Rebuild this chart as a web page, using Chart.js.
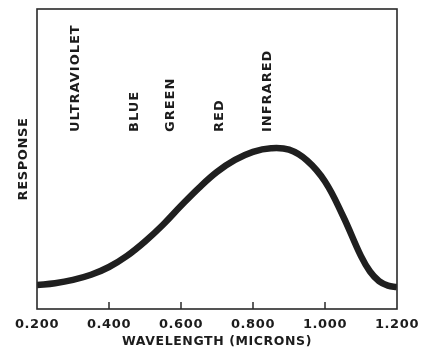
<!DOCTYPE html>
<html>
<head>
<meta charset="utf-8">
<script src="https://cdn.jsdelivr.net/npm/chart.js@4/dist/chart.umd.min.js"></script>
<style>
html,body{margin:0;padding:0;background:#fff;}
#wrap{width:428px;height:351px;}
</style>
</head>
<body>
<div id="wrap"><canvas id="c" width="428" height="351"></canvas></div>
<script>
// Data
const wavelengths = [0.20,0.25,0.30,0.35,0.40,0.45,0.50,0.55,0.60,0.65,0.70,0.75,0.80,0.85,0.90,0.95,1.00,1.05,1.10,1.125,1.15,1.175,1.20];
const response    = [8.0, 8.6, 9.7, 11.4,14.0,17.7,22.5,28.1,34.4,40.4,45.7,49.7,52.4,53.6,53.1,49.5,42.5,31.0,17.6,12.5, 9.3, 7.8,  7.3];
const regionNames = ["ULTRAVIOLET","BLUE","GREEN","RED","INFRARED"];
const regionWavelengths = [0.306,0.472,0.572,0.706,0.842];
const xTickValues = [0.2,0.4,0.6,0.8,1.0,1.2];

const regionLabelLevel = 59; // response level where the vertical labels start

const ink = '#1c1c1c';
const fontFam = '"DejaVu Sans", "Liberation Sans", sans-serif';

const spacingPlugin = {
  id: 'spacing',
  beforeDraw(chart) {
    if ('letterSpacing' in chart.ctx) chart.ctx.letterSpacing = '0.6px';
  }
};

const framePlugin = {
  id: 'frame',
  afterDatasetsDraw(chart) {
    const {ctx, chartArea: a, scales: {x, y}} = chart;
    ctx.save();
    ctx.strokeStyle = '#2a2a2a';
    ctx.lineWidth = 1.6;
    ctx.strokeRect(a.left, a.top, a.right - a.left, a.bottom - a.top);
    // inward ticks
    ctx.lineWidth = 1.5;
    xTickValues.forEach(v => {
      const px = x.getPixelForValue(v);
      if (px > a.left + 2 && px < a.right - 2) {
        ctx.beginPath();
        ctx.moveTo(px, a.bottom);
        ctx.lineTo(px, a.bottom - 7);
        ctx.stroke();
      }
    });
    // region labels
    ctx.fillStyle = ink;
    ctx.font = 'bold 13px ' + fontFam;
    ctx.textAlign = 'left';
    ctx.textBaseline = 'middle';
    if ('letterSpacing' in ctx) ctx.letterSpacing = '1px';
    regionNames.forEach((name, i) => {
      const px = x.getPixelForValue(regionWavelengths[i]);
      const py = y.getPixelForValue(regionLabelLevel);
      ctx.save();
      ctx.translate(px, py);
      ctx.rotate(-Math.PI / 2);
      ctx.fillText(name, 0, 0);
      ctx.restore();
    });
    ctx.restore();
  }
};

new Chart(document.getElementById('c'), {
  type: 'line',
  data: {
    datasets: [{
      data: wavelengths.map((w, i) => ({x: w, y: response[i]})),
      borderColor: '#1f1f1f',
      borderWidth: 6.5,
      pointRadius: 0,
      fill: false,
      tension: 0.4,
      borderCapStyle: 'butt'
    }]
  },
  options: {
    responsive: false,
    animation: false,
    devicePixelRatio: 1,
    layout: {padding: {top: 9, right: 31, bottom: 0, left: 0}},
    plugins: {legend: {display: false}, tooltip: {enabled: false}},
    scales: {
      x: {
        type: 'linear',
        min: 0.2, max: 1.2,
        afterBuildTicks(scale) { scale.ticks = xTickValues.map(v => ({value: v})); },
        afterFit(scale) { scale.height = 42; },
        grid: {display: false},
        border: {display: false},
        ticks: {
          color: ink,
          padding: 0,
          maxRotation: 0,
          font: {family: fontFam, size: 13, weight: 'bold'},
          callback: v => Number(v).toFixed(3)
        },
        title: {
          display: true,
          text: 'WAVELENGTH (MICRONS)',
          color: ink,
          padding: {top: 0, bottom: 2},
          font: {family: fontFam, size: 12.5, weight: 'bold'}
        }
      },
      y: {
        min: 0, max: 100,
        afterFit(scale) { scale.width = 37; },
        grid: {display: false},
        border: {display: false},
        ticks: {display: false},
        title: {
          display: true,
          text: 'RESPONSE',
          color: ink,
          padding: {top: 16, bottom: 0},
          font: {family: fontFam, size: 13, weight: 'bold'}
        }
      }
    }
  },
  plugins: [spacingPlugin, framePlugin]
});
</script>
</body>
</html>
